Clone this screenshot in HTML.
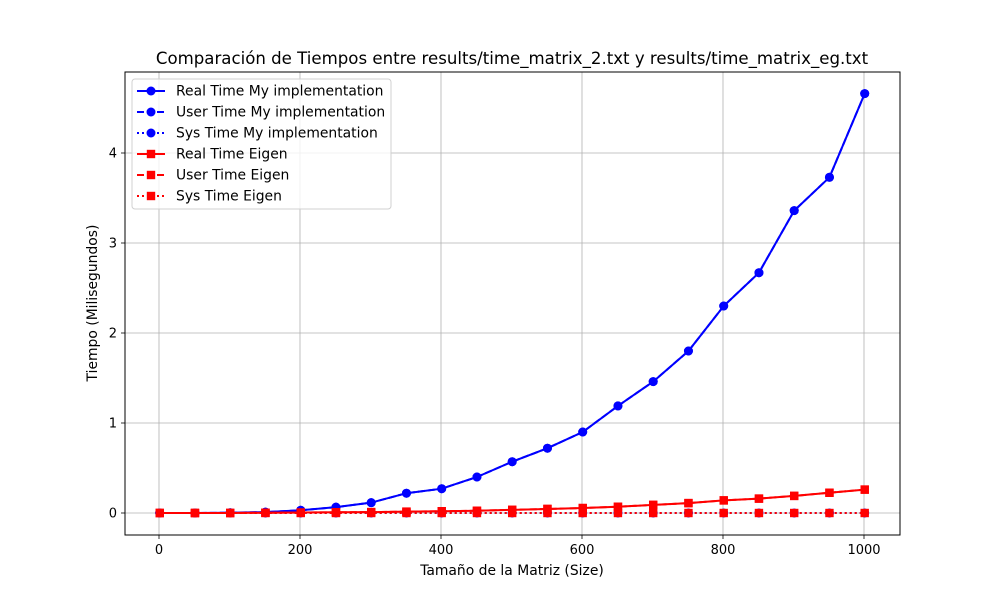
<!DOCTYPE html>
<html><head><meta charset="utf-8"><style>
html,body{margin:0;padding:0;background:#fff;overflow:hidden;width:1000px;height:600px}
svg{display:block}
text{font-family:"DejaVu Sans","Liberation Sans",sans-serif;fill:#000}
</style></head><body>
<svg id="chart" width="1000" height="600" xmlns="http://www.w3.org/2000/svg">
<rect width="1000" height="600" fill="#fff"/>
<g id="grid"></g><g id="series"></g><g id="axes"></g>
<text x="512" y="64" text-anchor="middle" font-size="16.6">Comparación de Tiempos entre results/time_matrix_2.txt y results/time_matrix_eg.txt</text>
<text x="512" y="575" text-anchor="middle" font-size="13.9">Tamaño de la Matriz (Size)</text>
<text x="97" y="303" text-anchor="middle" font-size="13.9" transform="rotate(-90 97 303)">Tiempo (Milisegundos)</text>
</svg>
<script>
const sizes=[1,51,101,151,201,251,301,351,401,451,501,551,601,651,701,751,801,851,901,951,1001];
const realMy=[0,0,0.003,0.01,0.03,0.065,0.115,0.22,0.27,0.40,0.57,0.72,0.90,1.19,1.46,1.80,2.30,2.67,3.36,3.73,4.66];
const userMy=[0,0,0.003,0.01,0.03,0.065,0.115,0.22,0.27,0.40,0.57,0.72,0.90,1.19,1.46,1.80,2.30,2.67,3.36,3.73,4.66];
const sysMy=[0,0,0,0,0,0,0,0,0,0,0,0,0,0,0,0,0,0,0,0,0];
const realEg=[0,0,0,0.003,0.005,0.008,0.01,0.015,0.02,0.025,0.035,0.045,0.055,0.07,0.09,0.11,0.14,0.16,0.19,0.225,0.26];
const userEg=[0,0,0,0.003,0.005,0.008,0.01,0.015,0.02,0.025,0.035,0.045,0.055,0.07,0.09,0.11,0.14,0.16,0.19,0.225,0.26];
const sysEg=[0,0,0,0,0,0,0,0,0,0,0,0,0,0,0,0,0,0,0,0,0];
const xTicks=[0,200,400,600,800,1000];
const yTicks=[0,1,2,3,4];
const L=125,R=900,T=72,B=535;
const xs=v=>159+(v-0)*0.705;
const ys=v=>513-v*90;
const NS="http://www.w3.org/2000/svg";
function mk(tag,attrs,parent){const e=document.createElementNS(NS,tag);for(const k in attrs)e.setAttribute(k,attrs[k]);parent.appendChild(e);return e;}
const grid=document.getElementById('grid'),ser=document.getElementById('series'),ax=document.getElementById('axes');
xTicks.forEach(t=>{const x=xs(t);
 const g=mk('line',{x1:x,x2:x,y1:T,y2:B,stroke:'#b0b0b0','stroke-width':0.8},grid);
 
 mk('line',{x1:x,x2:x,y1:B,y2:B+4,stroke:'#000','stroke-width':0.8},ax);
 const tx=mk('text',{x:x,y:B+19,'text-anchor':'middle','font-size':13},ax);tx.textContent=t;
 });
yTicks.forEach(t=>{const y=ys(t);
 const g=mk('line',{x1:L,x2:R,y1:y,y2:y,stroke:'#b0b0b0','stroke-width':0.8},grid);
 
 mk('line',{x1:L-4,x2:L,y1:y,y2:y,stroke:'#000','stroke-width':0.8},ax);
 const tx=mk('text',{x:L-8,y:y+4.5,'text-anchor':'end','font-size':13},ax);tx.textContent=t;
 });
const fr=mk('rect',{x:L,y:T,width:R-L,height:B-T,fill:'none',stroke:'#000','stroke-width':1},ax);

const series=[
 {name:'real-my',vals:realMy,c:'#0000ff',dash:'',m:'o'},
 {name:'user-my',vals:userMy,c:'#0000ff',dash:'7,3',m:'o'},
 {name:'sys-my',vals:sysMy,c:'#0000ff',dash:'2,3',m:'o'},
 {name:'real-eigen',vals:realEg,c:'#ff0000',dash:'',m:'s'},
 {name:'user-eigen',vals:userEg,c:'#ff0000',dash:'7,3',m:'s'},
 {name:'sys-eigen',vals:sysEg,c:'#ff0000',dash:'2,3',m:'s'}];
function marker(g,m,x,y,c){ if(m==='o') return mk('circle',{cx:x,cy:y,r:4.5,fill:c},g); return mk('rect',{x:x-4.2,y:y-4.2,width:8.4,height:8.4,fill:c},g);}
series.forEach(s=>{const g=mk('g',{},ser);
 const pts=s.vals.map((v,i)=>xs(sizes[i])+','+ys(v)).join(' ');
 const pl=mk('polyline',{points:pts,fill:'none',stroke:s.c,'stroke-width':2,'stroke-dasharray':s.dash},g);
 
 s.vals.forEach((v,i)=>{const p=marker(g,s.m,xs(sizes[i]),ys(v),s.c);});});
const lg=mk('g',{},ax);
mk('rect',{x:132,y:79,width:259,height:130,rx:3,fill:'#fff','fill-opacity':0.8,stroke:'#d0d0d0'},lg);
const labels=['Real Time My implementation','User Time My implementation','Sys Time My implementation','Real Time Eigen','User Time Eigen','Sys Time Eigen'];
series.forEach((s,i)=>{const y=91+i*21;const e=mk('g',{},lg);
 mk('line',{x1:137,x2:165,y1:y,y2:y,stroke:s.c,'stroke-width':2,'stroke-dasharray':s.dash},e);
 marker(e,s.m,151,y,s.c);
 const t=mk('text',{x:176,y:y+4.5,'font-size':13.9},e);t.textContent=labels[i];});
</script>
</body></html>
